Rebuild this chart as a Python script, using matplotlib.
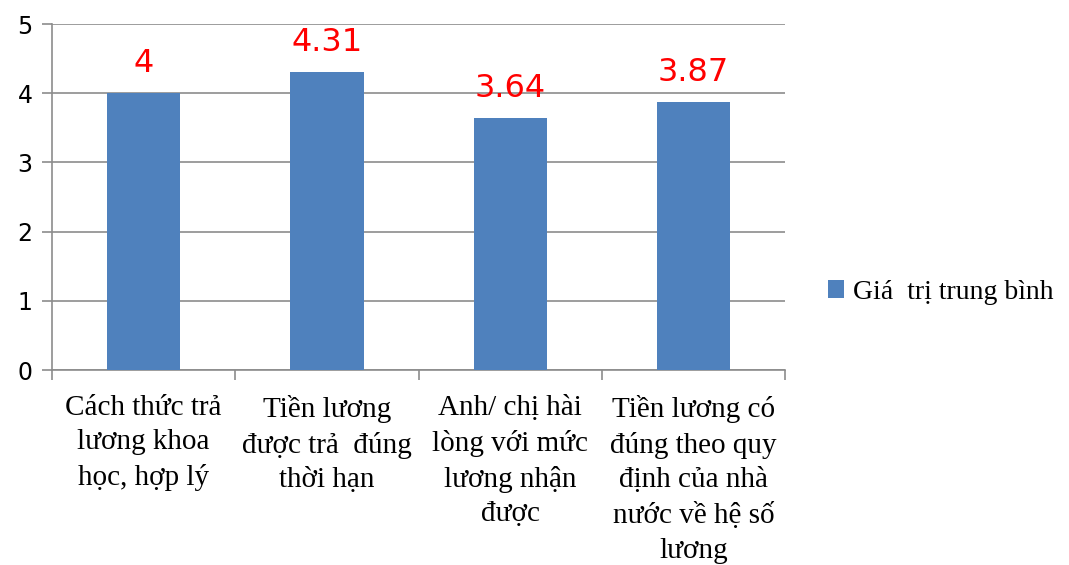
import matplotlib.pyplot as plt
import numpy as np

# du lieu
categories = ['Cách thức trả\nlương khoa\nhọc, hợp lý',
              'Tiền lương\nđược trả  đúng\nthời hạn',
              'Anh/ chị hài\nlòng với mức\nlương nhận\nđược',
              'Tiền lương có\nđúng theo quy\nđịnh của nhà\nnước về hệ số\nlương']
values = [4, 4.31, 3.64, 3.87]
value_labels = ['4', '4.31', '3.64', '3.87']
yticks = [0, 1, 2, 3, 4, 5]

bar_color = '#4F81BD'
grid_color = '#8C8C8C'

fig = plt.figure(figsize=(10.69, 5.65), dpi=100)
ax = fig.add_axes([0.0486, 0.345, 0.686, 0.6125])

x = np.arange(len(categories))
bars = ax.bar(x, values, width=0.4, color=bar_color, label='Giá  trị trung bình', zorder=3)

for xi, v, lab in zip(x, values, value_labels):
    ax.text(xi, v + 0.3, lab, ha='center', va='baseline', color='red',
            fontsize=23, family='DejaVu Sans', zorder=4)

ax.set_xlim(-0.5, len(categories) - 0.5)
ax.set_ylim(0, 5)
ax.set_yticks(yticks)
ax.set_yticklabels([str(t) for t in yticks], fontsize=17, family='DejaVu Sans')
ax.yaxis.grid(True, color=grid_color, linewidth=1.2, zorder=0)

# vach chia giua cac nhom
ax.set_xticks(np.arange(len(categories) + 1) - 0.5)
ax.set_xticklabels([])
ax.set_xticks(x, minor=True)
ax.set_xticklabels(categories, minor=True, fontsize=21, family='Liberation Serif',
                   linespacing=1.42, va='top')
ax.tick_params(axis='x', which='minor', length=0, pad=18)
ax.tick_params(axis='x', which='major', length=7, color=grid_color, width=1.2)
ax.tick_params(axis='y', length=7, color=grid_color, width=1.2, pad=7)

for s in ['top', 'right']:
    ax.spines[s].set_visible(False)
for s in ['left', 'bottom']:
    ax.spines[s].set_color(grid_color)
    ax.spines[s].set_linewidth(1.2)

leg = fig.legend(handles=[bars], labels=['Giá  trị trung bình'], loc='center left',
                 bbox_to_anchor=(0.769, 0.483), frameon=False,
                 prop={'family': 'Liberation Serif', 'size': 20},
                 handlelength=0.6, handleheight=0.6, handletextpad=0.3,
                 borderaxespad=0, borderpad=0.2)

fig.savefig('out.png', dpi=100)
